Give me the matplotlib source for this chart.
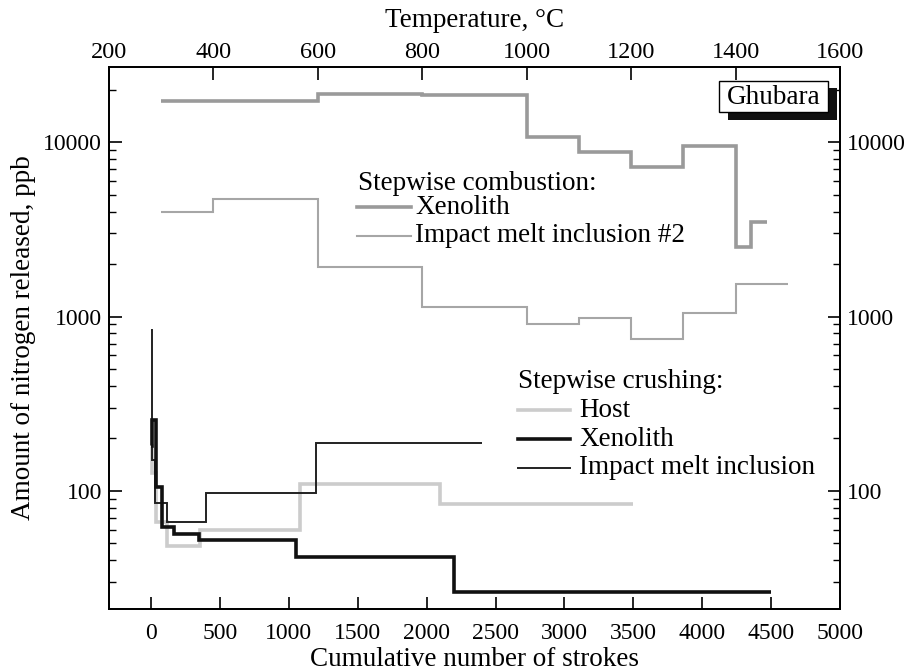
import matplotlib
matplotlib.use("Agg")
import matplotlib.pyplot as plt
from matplotlib.patches import Rectangle
from matplotlib.lines import Line2D
import numpy as np

plt.rcParams['font.family'] = ['Liberation Serif', 'DejaVu Serif']
FS = 17      # tick labels
FL = 19.5    # axis labels, legends

# ---- Stepwise combustion (top axis: temperature, °C) ----
comb_xen_T = [300, 600, 800, 1000, 1100, 1200, 1300, 1400, 1430, 1460]
comb_xen_N = [17300, 18900, 18700, 10700, 8800, 7200, 9500, 2500, 3500]

comb_imp_T = [300, 400, 600, 800, 1000, 1100, 1200, 1300, 1400, 1500]
comb_imp_N = [4000, 4700, 1920, 1140, 900, 985, 745, 1045, 1540]

# ---- Stepwise crushing (bottom axis: cumulative strokes) ----
crush_host_S = [0, 10, 36, 114, 356, 1080, 2100, 3500]
crush_host_N = [180, 126, 66.7, 48, 60, 110, 84]

crush_xen_S = [0, 10, 36, 78, 169, 351, 1050, 2200, 4500]
crush_xen_N = [180, 255, 105, 62.4, 56.4, 52, 42, 26.4]

crush_imp_S = [0, 10, 29, 118, 400, 1200, 2400]
crush_imp_N = [840, 150, 85.7, 66.7, 97.8, 188]

x_ticks = [0, 500, 1000, 1500, 2000, 2500, 3000, 3500, 4000, 4500, 5000]
t_ticks = [200, 400, 600, 800, 1000, 1200, 1400, 1600]
y_ticks = [100, 1000, 10000]

C_COMB_XEN = '#9a9a9a'
C_COMB_IMP = '#a6a6a6'
C_HOST = '#cccccc'
C_XEN = '#111111'
C_IMP = '#222222'

fig = plt.figure(figsize=(9.14, 6.72), dpi=100)
ax = fig.add_axes([109/914, 1-609/672, (840-109)/914, (609-67)/672])

ax.set_yscale('log')
ax.set_xlim(-305, 5000)
ax.set_ylim(21, 27000)

ax.stairs(crush_host_N, crush_host_S, baseline=None, color=C_HOST, lw=2.6)
ax.stairs(crush_imp_N, crush_imp_S, baseline=None, color=C_IMP, lw=1.4)
ax.stairs(crush_xen_N, crush_xen_S, baseline=None, color=C_XEN, lw=2.6)

axT = ax.twiny()
axT.set_xlim(200, 1600)
axT.stairs(comb_imp_N, comb_imp_T, baseline=None, color=C_COMB_IMP, lw=1.5)
axT.stairs(comb_xen_N, comb_xen_T, baseline=None, color=C_COMB_XEN, lw=2.6)

ax.set_xticks(x_ticks)
ax.set_xticklabels([str(v) for v in x_ticks])
axT.set_xticks(t_ticks)
axT.set_xticklabels([str(v) for v in t_ticks])
ax.set_yticks(y_ticks)
ax.set_yticklabels([str(v) for v in y_ticks])
ax.yaxis.set_minor_formatter(matplotlib.ticker.NullFormatter())

ax.tick_params(axis='x', which='both', direction='in', length=9, width=1.2,
               labelsize=FS, pad=10, top=False)
axT.tick_params(axis='x', which='both', direction='in', length=9, width=1.2,
                labelsize=17.5, pad=3)
ax.tick_params(axis='y', which='major', direction='in', length=9, width=1.2,
               labelsize=FS, left=True, right=True, labelleft=True, labelright=True, pad=5)
ax.tick_params(axis='y', which='minor', direction='in', length=5, width=1.0,
               left=True, right=True)
for a in (ax, axT):
    for s in a.spines.values():
        s.set_linewidth(1.3)

ax.set_xlabel('Cumulative number of strokes', fontsize=FL, va='center')
ax.xaxis.set_label_coords(0.5, (609 - 660) / 542)
axT.set_xlabel('Temperature, °C', fontsize=FL, va='center')
axT.xaxis.set_label_coords(0.5, (609 - 20) / 542)
ax.set_ylabel('Amount of nitrogen released, ppb', fontsize=FL, va='center')
ax.yaxis.set_label_coords((23.5 - 109) / 731, 0.5)

# ---- legends drawn as figure-pixel annotations ----
def px(x, y):
    return (x/914, 1 - y/672)

def legend_line(x0, x1, y, color, lw):
    fig.add_artist(Line2D([x0/914, x1/914], [1-y/672, 1-y/672], color=color, lw=lw))

fig.text(*px(358, 183), 'Stepwise combustion:', fontsize=FL, va='center', ha='left')
legend_line(357, 411, 207, C_COMB_XEN, 2.6)
fig.text(*px(415, 207), 'Xenolith', fontsize=FL, va='center', ha='left')
legend_line(357, 411, 236, C_COMB_IMP, 1.5)
fig.text(*px(415, 236), 'Impact melt inclusion #2', fontsize=FL, va='center', ha='left')

fig.text(*px(518, 382), 'Stepwise crushing:', fontsize=FL, va='center', ha='left')
legend_line(518, 570, 410, C_HOST, 2.6)
fig.text(*px(579, 410), 'Host', fontsize=FL, va='center', ha='left')
legend_line(518, 570, 439, C_XEN, 2.6)
fig.text(*px(579, 439), 'Xenolith', fontsize=FL, va='center', ha='left')
legend_line(518, 570, 468, C_IMP, 1.4)
fig.text(*px(579, 468), 'Impact melt inclusion', fontsize=FL, va='center', ha='left')

# Ghubara label box with shadow
fig.add_artist(Rectangle(px(728, 120), 109/914, 32/672, facecolor='#111111',
                         edgecolor='none', transform=fig.transFigure))
fig.add_artist(Rectangle(px(719, 112), 109/914, 31/672, facecolor='white',
                         edgecolor='black', lw=1.0, transform=fig.transFigure))
fig.text(*px(773.5, 97), 'Ghubara', fontsize=FL, va='center', ha='center')

fig.savefig('out.png', dpi=100)
